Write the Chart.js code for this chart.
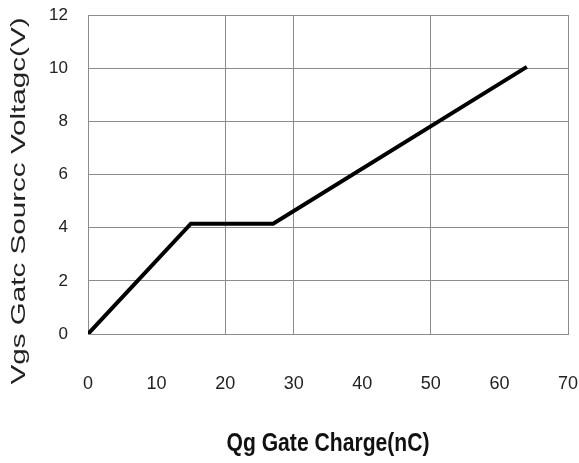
<!DOCTYPE html>
<html><head><meta charset="utf-8">
<script src="https://cdn.jsdelivr.net/npm/chart.js@4.4.1/dist/chart.umd.min.js"></script>
<style>html,body{margin:0;padding:0;background:#fff;}#wrap{width:579px;height:463px;}</style>
</head><body><div id="wrap"><canvas id="c" width="579" height="463"></canvas></div>
<script>
const charge = [0, 15, 27, 64];
const voltage = [0, 4.15, 4.15, 10.05];
const xRange = [0, 70];
const yRange = [0, 12];
const xStep = 10;
const yStep = 2;
const xGridShown = [0, 20, 30, 50, 70];
const xTitle = 'Qg Gate Charge(nC)';
const yTitle = 'Vgs Gatc Sourcc Voltagc(V)';

const gridColor = '#8c8c8c';
const textColor = '#222';

const titlesPlugin = {
  id: 'titlesPlugin',
  afterDraw(chart) {
    const ctx = chart.ctx;
    const area = chart.chartArea;
    // y axis title (rotated)
    ctx.save();
    ctx.translate(19, 201);
    ctx.rotate(-Math.PI / 2);
    ctx.font = '21px "Liberation Sans", Arial, sans-serif';
    let w = ctx.measureText(yTitle).width;
    ctx.scale(367 / w, 1);
    ctx.fillStyle = textColor;
    ctx.textAlign = 'center';
    ctx.textBaseline = 'middle';
    ctx.fillText(yTitle, 0, 0);
    ctx.restore();
    // x axis title (condensed bold)
    ctx.save();
    ctx.translate((area.left + area.right) / 2, 451);
    ctx.font = 'bold 26px "Liberation Sans", Arial, sans-serif';
    w = ctx.measureText(xTitle).width;
    ctx.scale(203 / w, 1);
    ctx.fillStyle = '#111';
    ctx.textAlign = 'center';
    ctx.textBaseline = 'alphabetic';
    ctx.fillText(xTitle, 0, 0);
    ctx.restore();
  }
};

function zeroPad(s) { s.paddingLeft = 0; s.paddingRight = 0; s.paddingTop = 0; s.paddingBottom = 0; }

new Chart(document.getElementById('c'), {
  type: 'scatter',
  data: {
    datasets: [{
      data: charge.map((x, i) => ({x: x, y: voltage[i]})),
      showLine: true,
      borderColor: '#000',
      borderWidth: 4,
      pointRadius: 0,
      fill: false,
      tension: 0
    }]
  },
  options: {
    responsive: false,
    devicePixelRatio: 1,
    animation: false,
    layout: {padding: {left: 0, right: 11, top: 15, bottom: 0}},
    plugins: {legend: {display: false}, tooltip: {enabled: false}},
    scales: {
      x: {
        type: 'linear',
        min: xRange[0], max: xRange[1],
        ticks: {stepSize: xStep, padding: 39, color: textColor,
          font: {family: '"Liberation Sans", Arial, sans-serif', size: 18}},
        grid: {
          drawTicks: false,
          lineWidth: 1,
          color: (c) => (c.tick && xGridShown.includes(c.tick.value)) ? gridColor : 'rgba(0,0,0,0)'
        },
        border: {display: true, color: gridColor, width: 1},
        afterFit(s) { s.height = 129; zeroPad(s); }
      },
      y: {
        type: 'linear',
        min: yRange[0], max: yRange[1],
        ticks: {stepSize: yStep, padding: 20, color: textColor,
          font: {family: '"Liberation Sans", Arial, sans-serif', size: 17}},
        grid: {drawTicks: false, lineWidth: 1, color: gridColor},
        border: {display: true, color: gridColor, width: 1},
        afterFit(s) { s.width = 88; zeroPad(s); }
      }
    }
  },
  plugins: [titlesPlugin]
});
</script>
</body></html>
